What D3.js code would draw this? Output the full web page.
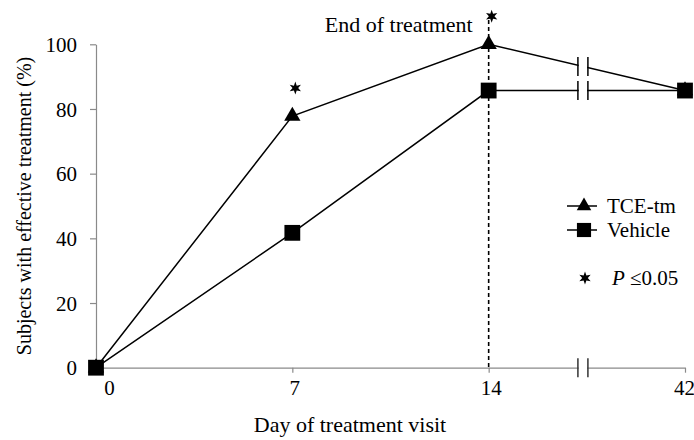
<!DOCTYPE html>
<html>
<head>
<meta charset="utf-8">
<script src="https://cdn.jsdelivr.net/npm/d3@7"></script>
<style>
  html, body { margin: 0; padding: 0; background: #fff; }
  svg { display: block; }
</style>
</head>
<body>
<svg id="chart" width="694" height="440"></svg>
<script>
// ---- data ----
const days = ["0", "7", "14", "42"];
const seriesNames = ["TCE-tm", "Vehicle"];
const tceValues = [0, 77.8, 100, 85.7];
const vehicleValues = [0, 41.7, 85.7, 85.7];
const yTicks = [0, 20, 40, 60, 80, 100];
const significantDays = ["7", "14"];
const endOfTreatmentDay = "14";
const xTitle = "Day of treatment visit";
const yTitle = "Subjects with effective treatment (%)";
const annotationText = "End of treatment";
const sigLabel = "≤0.05";

// ---- layout ----
const FONT = "Liberation Serif";
const FS = 21;
const svg = d3.select("#chart");
const x = d3.scalePoint().domain(days).range([96, 685]);
const y = d3.scaleLinear().domain([0, 100]).range([367.7, 44.3]);
const axisColor = "#8a8a8a";

function styleText(sel, size) {
  return sel.style("font-family", FONT).style("font-size", (size || FS) + "px").style("fill", "#000");
}

// axes
const yAxis = svg.append("g")
  .attr("transform", `translate(${x("0")},0)`)
  .call(d3.axisLeft(y).tickValues(yTicks).tickSize(6).tickSizeOuter(0).tickPadding(13));
yAxis.attr("font-family", FONT).attr("font-size", FS);
yAxis.selectAll("path, line").attr("stroke", axisColor).attr("stroke-width", 1.2);
styleText(yAxis.selectAll("text")).attr("dy", "0.34em");

const xAxis = svg.append("g")
  .attr("transform", `translate(0,${y(0)})`)
  .call(d3.axisBottom(x).tickSize(5).tickSizeOuter(0).tickPadding(7));
xAxis.attr("font-family", FONT).attr("font-size", FS);
xAxis.selectAll("path, line").attr("stroke", axisColor).attr("stroke-width", 1.2);
styleText(xAxis.selectAll("text"))
  .attr("dx", d => d === "0" ? 13 : (d === "42" ? -1 : 2));

// axis titles
styleText(svg.append("text"), 22)
  .attr("x", 350).attr("y", 432)
  .attr("text-anchor", "middle")
  .text(xTitle);
styleText(svg.append("text"), 20)
  .attr("transform", `translate(31,${(y(0) + y(100)) / 2}) rotate(-90)`)
  .attr("text-anchor", "middle")
  .text(yTitle);

// end-of-treatment dashed line
svg.append("line")
  .attr("x1", x(endOfTreatmentDay)).attr("x2", x(endOfTreatmentDay))
  .attr("y1", 20).attr("y2", y(0))
  .attr("stroke", "#000").attr("stroke-width", 1.6)
  .attr("stroke-dasharray", "4,3");
styleText(svg.append("text"), 22)
  .attr("x", x(endOfTreatmentDay) - 16).attr("y", 32)
  .attr("text-anchor", "end")
  .text(annotationText);

// series lines
const series = [
  { name: seriesNames[0], values: tceValues, symbol: d3.symbolTriangle, size: 115 },
  { name: seriesNames[1], values: vehicleValues, symbol: d3.symbolSquare, size: 250 }
];
const line = d3.line().x((d, i) => x(days[i])).y(d => y(d));
series.forEach(s => {
  svg.append("path")
    .attr("d", line(s.values))
    .attr("fill", "none").attr("stroke", "#000").attr("stroke-width", 1.5);
});

// axis breaks between 14 and 42
const bx = x("14") + 0.48 * (x("42") - x("14"));
const gap = 10;
function drawBreak(cy, color) {
  svg.append("rect")
    .attr("x", bx - gap / 2 + 0.8).attr("y", cy - 4)
    .attr("width", gap - 1.6).attr("height", 8)
    .attr("fill", "#fff");
  [bx - gap / 2, bx + gap / 2].forEach(px => {
    svg.append("line")
      .attr("x1", px).attr("x2", px)
      .attr("y1", cy - 9.5).attr("y2", cy + 9.5)
      .attr("stroke", color).attr("stroke-width", 1.5);
  });
}
series.forEach(s => {
  const i1 = days.indexOf("14"), i2 = days.indexOf("42");
  const t = (bx - x("14")) / (x("42") - x("14"));
  drawBreak(y(s.values[i1]) + t * (y(s.values[i2]) - y(s.values[i1])), "#000");
});
drawBreak(y(0), "#333");

// markers
series.forEach(s => {
  svg.append("g").selectAll("path")
    .data(s.values)
    .join("path")
    .attr("transform", (d, i) => `translate(${x(days[i])},${y(d)})`)
    .attr("d", d3.symbol(s.symbol, s.size))
    .attr("fill", "#000");
});

// six-pointed star generator
function starPath(R, r) {
  const pts = [];
  for (let k = 0; k < 12; k++) {
    const a = -Math.PI / 2 + k * Math.PI / 6;
    const rad = k % 2 === 0 ? R : r;
    pts.push([rad * Math.cos(a), rad * Math.sin(a)]);
  }
  return d3.line()(pts) + "Z";
}

// significance stars
svg.append("g").selectAll("path")
  .data(significantDays)
  .join("path")
  .attr("transform", d => {
    const i = days.indexOf(d);
    return `translate(${x(d) + 3},${y(tceValues[i]) - 28})`;
  })
  .attr("d", starPath(6.5, 2.8))
  .attr("fill", "#000");

// legend
const legend = svg.append("g");
series.forEach((s, i) => {
  const ly = 206 + i * 24;
  legend.append("line")
    .attr("x1", 567).attr("x2", 597).attr("y1", ly).attr("y2", ly)
    .attr("stroke", "#000").attr("stroke-width", 1.5);
  legend.append("path")
    .attr("transform", `translate(584,${ly})`)
    .attr("d", d3.symbol(s.symbol, s.size * 0.8))
    .attr("fill", "#000");
  styleText(legend.append("text"))
    .attr("x", 607).attr("y", ly).attr("dy", "0.33em")
    .text(s.name);
});
legend.append("path")
  .attr("transform", "translate(585,278)")
  .attr("d", starPath(6.5, 2.8))
  .attr("fill", "#000");
const pt = styleText(legend.append("text"))
  .attr("x", 612).attr("y", 278).attr("dy", "0.33em");
pt.append("tspan").style("font-style", "italic").text("P");
pt.append("tspan").text(" " + sigLabel);
</script>
</body>
</html>
